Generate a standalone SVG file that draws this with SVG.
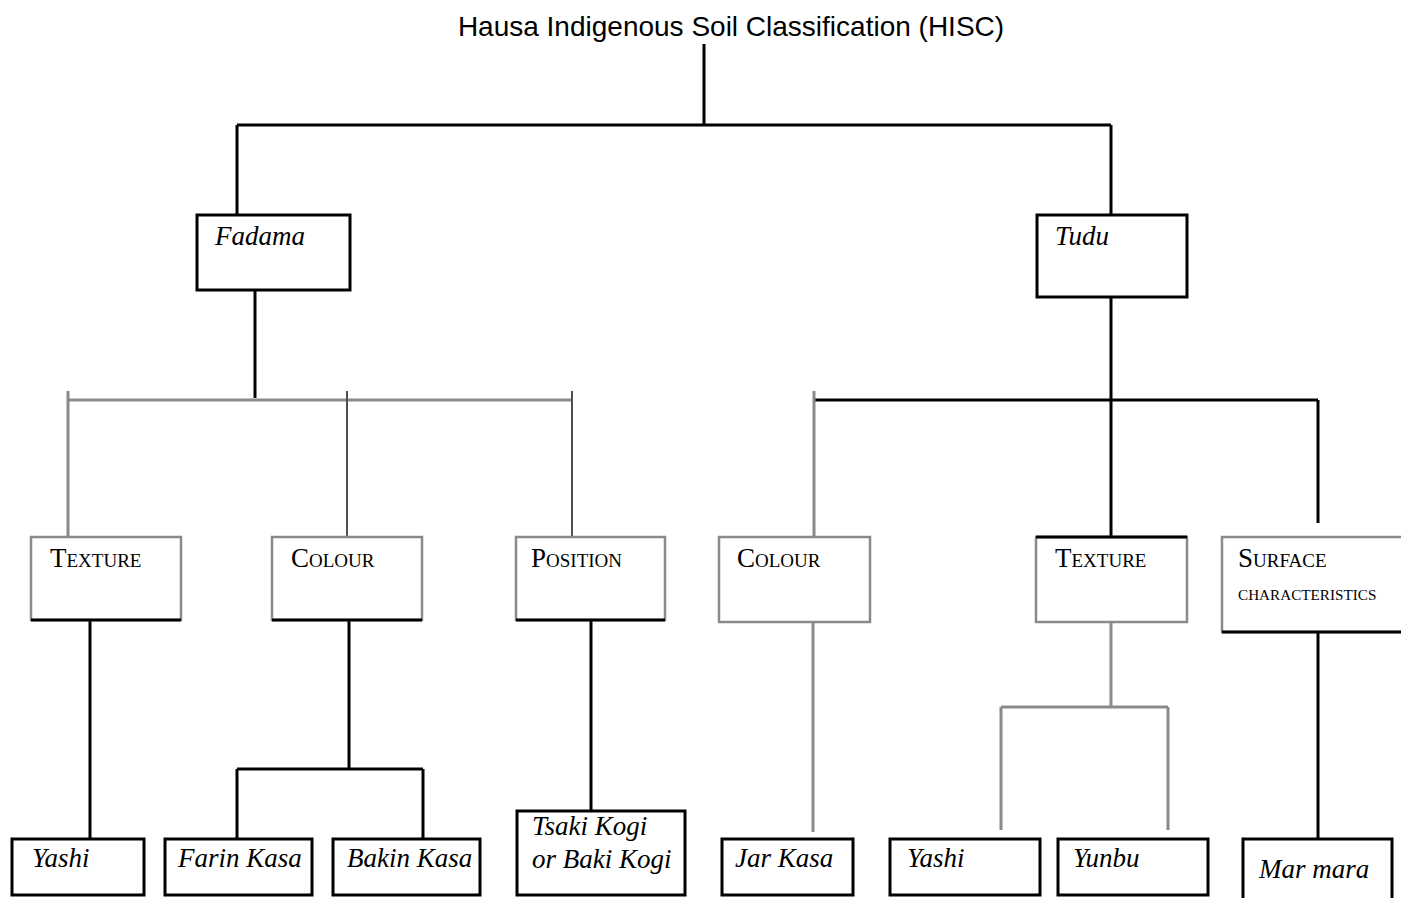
<svg xmlns="http://www.w3.org/2000/svg" width="1401" height="898" viewBox="0 0 1401 898">
<style>
.k{stroke:#000;stroke-width:3;fill:none}
.g{stroke:#8a8a8a;stroke-width:3;fill:none}
.d{stroke:#505050;stroke-width:2;fill:none}
.bk{stroke:#000;stroke-width:3;fill:#fff}
.bg{stroke:#8a8a8a;stroke-width:2.5;fill:#fff}
.t{font-family:"Liberation Sans",Arial,sans-serif;font-size:28px;fill:#000}
.i{font-family:"Liberation Serif","Times New Roman",serif;font-style:italic;font-size:27px;fill:#000}
.s{font-family:"Liberation Serif","Times New Roman",serif;font-size:27px;fill:#000}
.sc{font-size:19px}
</style>
<rect width="1401" height="898" fill="#fff"/>
<g id="connectors">
<path class="k" d="M704 44V125M237 125H1111M237 125V215M1111 125V215"/>
<path class="k" d="M255 290V398"/>
<path class="g" d="M68 400H572M68 391V537"/>
<path class="d" d="M347 391V537M572 391V537"/>
<path class="k" d="M1111 297V537M814 400H1318M1318 400V523"/>
<path class="g" d="M814 391V537"/>
<path class="k" d="M90 620V839M349 620V769M237 769H423M237 769V839M423 769V839M591 620V811"/>
<path class="g" d="M813 622V832M1111 622V707M1001 707H1168M1001 707V830M1168 707V830"/>
<path class="k" d="M1318 632V839"/>
</g>
<g id="title"><text class="t" x="731" y="36" text-anchor="middle">Hausa Indigenous Soil Classification (HISC)</text></g>
<g id="fadama"><rect class="bk" x="197" y="215" width="153" height="75"/><text class="i" x="215" y="245">Fadama</text></g>
<g id="tudu"><rect class="bk" x="1037" y="215" width="150" height="82"/><text class="i" x="1055" y="245">Tudu</text></g>
<g id="texture-l"><rect class="bg" x="31" y="537" width="150" height="83"/><path class="k" d="M31 620H181"/><text class="s" x="50" y="567">T<tspan class="sc">EXTURE</tspan></text></g>
<g id="colour-l"><rect class="bg" x="272" y="537" width="150" height="83"/><path class="k" d="M272 620H422"/><text class="s" x="291" y="567">C<tspan class="sc">OLOUR</tspan></text></g>
<g id="position"><rect class="bg" x="516" y="537" width="149" height="83"/><path class="k" d="M516 620H665"/><text class="s" x="531" y="567">P<tspan class="sc">OSITION</tspan></text></g>
<g id="colour-r"><rect class="bg" x="719" y="537" width="151" height="85"/><text class="s" x="737" y="567">C<tspan class="sc">OLOUR</tspan></text></g>
<g id="texture-r"><rect class="bg" x="1036" y="537" width="151" height="85"/><path class="k" d="M1036 537H1187"/><text class="s" x="1055" y="567">T<tspan class="sc">EXTURE</tspan></text></g>
<g id="surface"><rect class="bg" x="1222" y="537" width="182" height="95"/><path class="k" d="M1222 632H1401"/><text class="s" x="1238" y="567">S<tspan class="sc">URFACE</tspan></text><text class="s" x="1238" y="600" style="font-size:15.2px">CHARACTERISTICS</text></g>
<g id="yashi-l"><rect class="bk" x="12" y="839" width="132" height="56"/><text class="i" x="32" y="867">Yashi</text></g>
<g id="farin-kasa"><rect class="bk" x="165" y="839" width="147" height="56"/><text class="i" x="178" y="867">Farin Kasa</text></g>
<g id="bakin-kasa"><rect class="bk" x="333" y="839" width="147" height="56"/><text class="i" x="347" y="867">Bakin Kasa</text></g>
<g id="tsaki-kogi"><rect class="bk" x="517" y="811" width="168" height="84"/><text class="i" x="532" y="835">Tsaki Kogi</text><text class="i" x="532" y="868">or Baki Kogi</text></g>
<g id="jar-kasa"><rect class="bk" x="722" y="839" width="131" height="56"/><text class="i" x="735" y="867">Jar Kasa</text></g>
<g id="yashi-r"><rect class="bk" x="890" y="839" width="150" height="56"/><text class="i" x="907" y="867">Yashi</text></g>
<g id="yunbu"><rect class="bk" x="1058" y="839" width="150" height="56"/><text class="i" x="1073" y="867">Yunbu</text></g>
<g id="mar-mara"><rect class="bk" x="1243" y="839" width="149" height="64"/><text class="i" x="1259" y="878">Mar mara</text></g>
</svg>
